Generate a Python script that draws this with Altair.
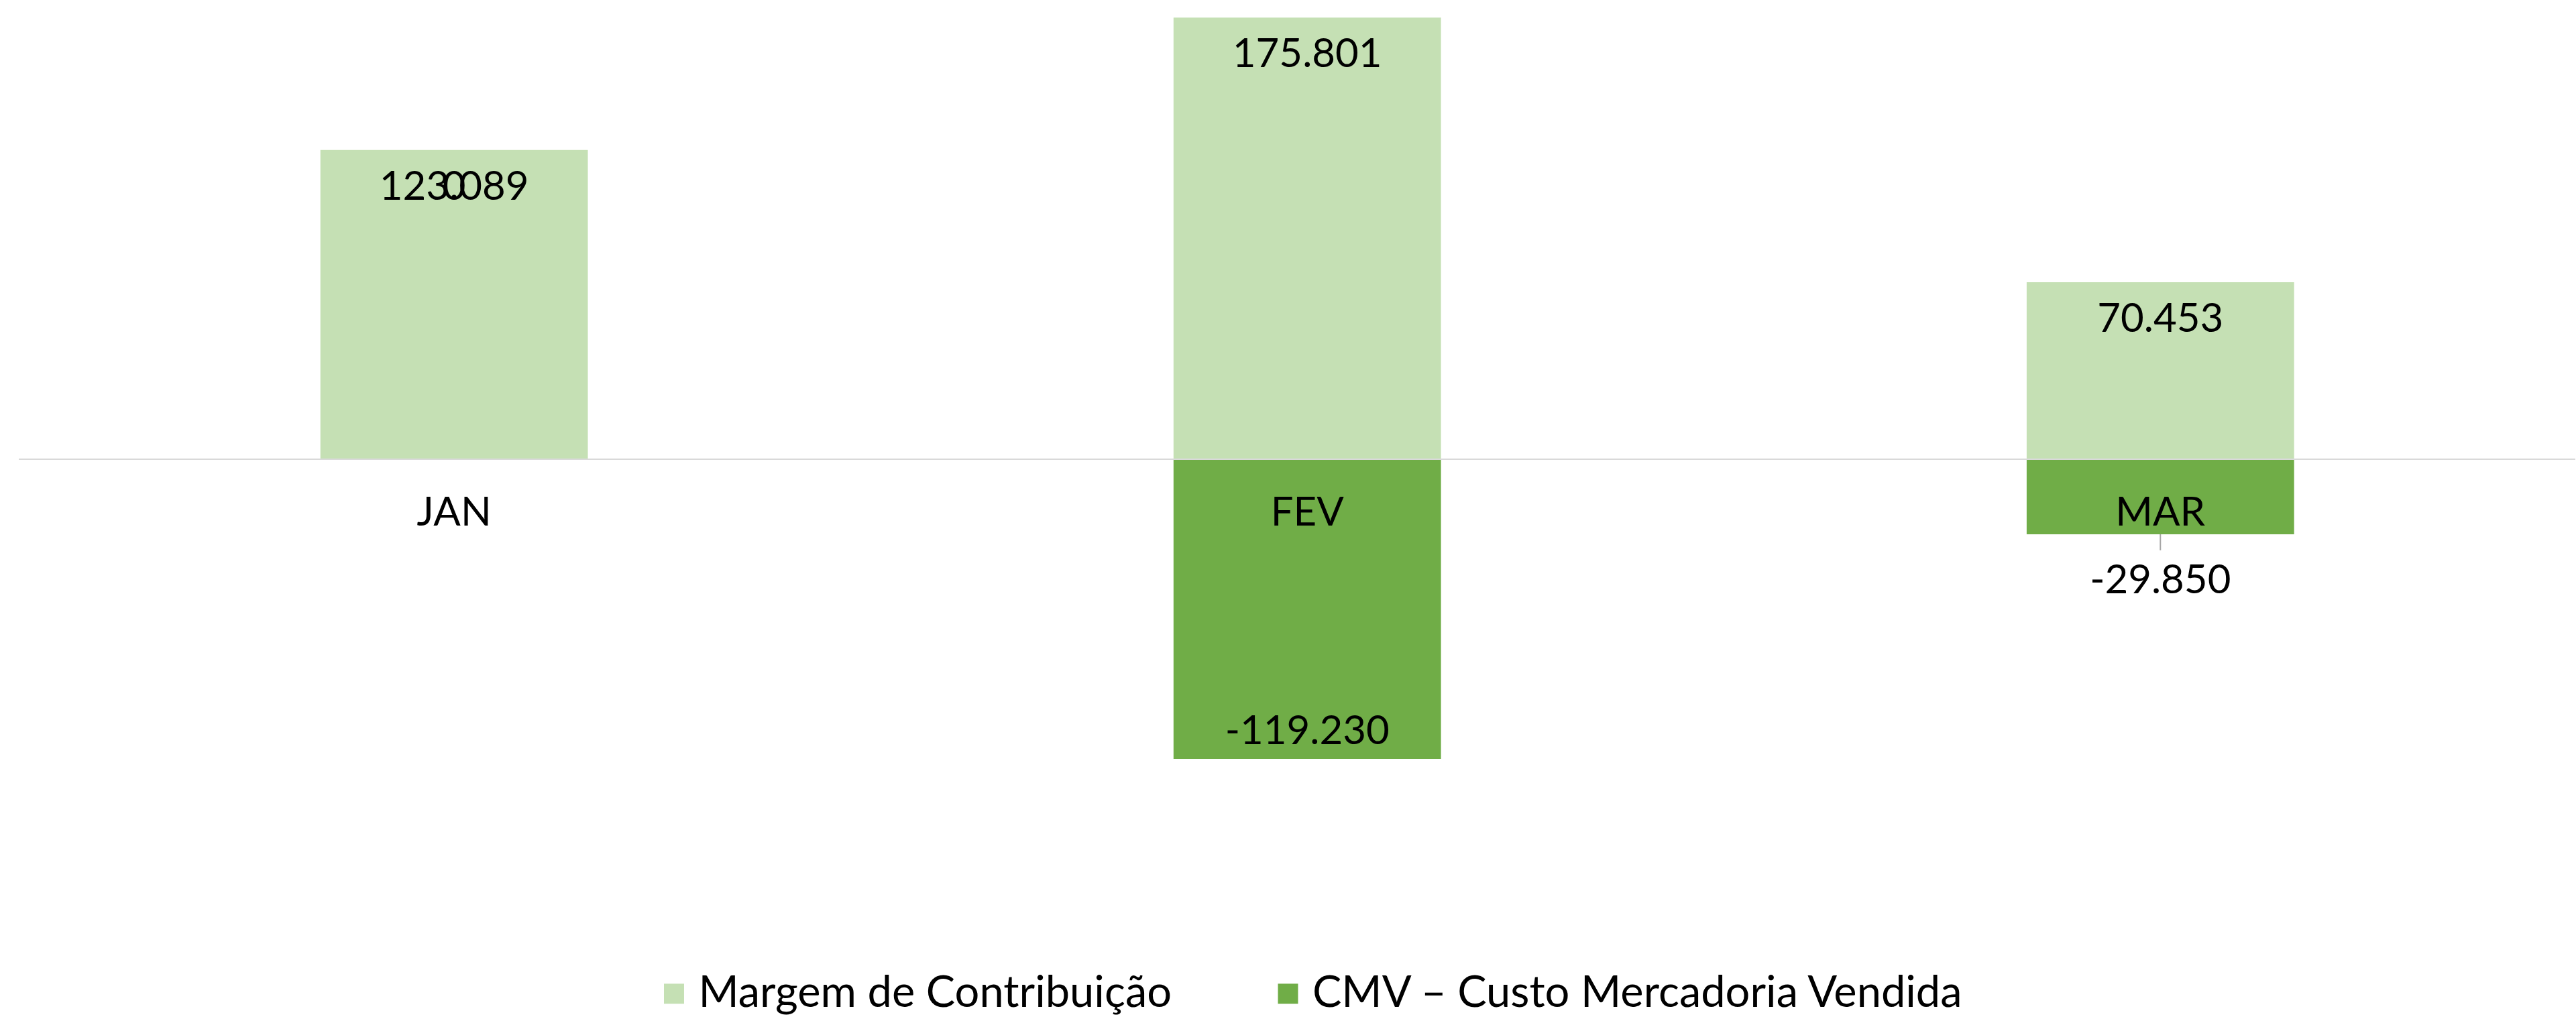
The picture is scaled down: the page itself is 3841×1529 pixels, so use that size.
import altair as alt
import pandas as pd

months = ["JAN", "FEV", "MAR"]
series_names = ["Margem de Contribuição", "CMV – Custo Mercadoria Vendida"]
margem = [123089, 175801, 70453]
cmv = [0, -119230, -29850]
cmv_label_outside = [False, False, True]

colors = ["#c5e0b4", "#70ad47"]
FONT = "Lato"
FS = 60


def fmt(v):
    return f"{v:,}".replace(",", ".")


rows = []
for i, m in enumerate(months):
    rows.append(dict(month=m, series=series_names[0], value=margem[i],
                     label=fmt(margem[i]), label_y=margem[i], place="inside"))
    # zero-valued segments sit at the top of the positive stack (as in Excel)
    ly = cmv[i] if cmv[i] < 0 else margem[i] + cmv[i]
    rows.append(dict(month=m, series=series_names[1], value=cmv[i],
                     label=fmt(cmv[i]), label_y=ly,
                     place="outside" if cmv_label_outside[i] else "inside"))
df = pd.DataFrame(rows)
mdf = pd.DataFrame({"month": months})

xscale = alt.Scale(domain=months, paddingInner=0.6865, paddingOuter=0.3416, align=0.5175)
yscale = alt.Scale(domain=[-150000, 180000], nice=False, zero=False)
x = alt.X("month:N", sort=months, scale=xscale, axis=None)

bars = alt.Chart(df).mark_bar().encode(
    x=x,
    y=alt.Y("value:Q", scale=yscale, axis=None, stack=None),
    color=alt.Color(
        "series:N",
        scale=alt.Scale(domain=series_names, range=colors),
        sort=series_names,
        legend=alt.Legend(
            title=None, orient="none", direction="horizontal",
            legendX=945, legendY=1440,
            symbolType="square", symbolSize=900, symbolStrokeWidth=0,
            labelFont=FONT, labelFontSize=65, labelColor="#000000",
            labelOffset=4, columnPadding=140, labelLimit=2000,
        ),
    ),
)

zero_rule = alt.Chart(mdf).mark_rule(color="#d9d9d9", strokeWidth=2).encode(
    y=alt.datum(0, scale=yscale)
)

text_kw = dict(font=FONT, fontSize=FS, color="#000000", baseline="middle", align="center")

lbl_pos = alt.Chart(df).transform_filter(
    "datum.place == 'inside' && datum.label_y >= 0"
).mark_text(dy=56, **text_kw).encode(x=x, y=alt.Y("label_y:Q", scale=yscale), text="label:N")

lbl_neg = alt.Chart(df).transform_filter(
    "datum.place == 'inside' && datum.label_y < 0"
).mark_text(dy=-40, **text_kw).encode(x=x, y=alt.Y("label_y:Q", scale=yscale), text="label:N")

lbl_out = alt.Chart(df).transform_filter(
    "datum.place == 'outside'"
).mark_text(dy=70, **text_kw).encode(x=x, y=alt.Y("label_y:Q", scale=yscale), text="label:N")

leader = alt.Chart(df).transform_filter(
    "datum.place == 'outside'"
).transform_calculate(y_end="datum.value - 6400").mark_rule(
    color="#a6a6a6", strokeWidth=2
).encode(x=x, y=alt.Y("value:Q", scale=yscale), y2="y_end:Q")

cat_labels = alt.Chart(mdf).mark_text(dy=81, **text_kw).encode(
    x=x, y=alt.datum(0, scale=yscale), text="month:N"
)

chart = alt.layer(
    bars, zero_rule, leader, lbl_pos, lbl_neg, lbl_out, cat_labels
).properties(
    width=3814, height=1237.5,
    padding={"left": 27, "top": 10, "right": 0, "bottom": 0},
    background="#ffffff",
).configure_view(stroke=None)

chart.save("out.html", embed_options={"renderer": "svg", "actions": False})
